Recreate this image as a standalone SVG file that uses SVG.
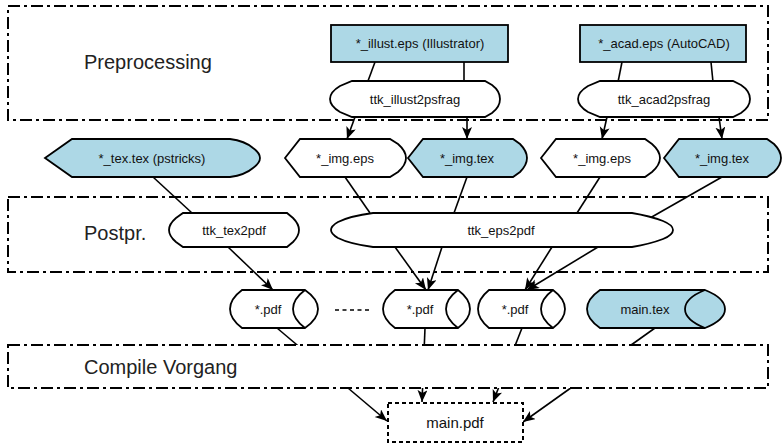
<svg xmlns="http://www.w3.org/2000/svg" width="782" height="446" viewBox="0 0 782 446">
<defs>
<marker id="arr" markerUnits="userSpaceOnUse" markerWidth="13" markerHeight="11" refX="12" refY="5" orient="auto">
<path d="M0,0 L12,5 L0,10 L3,5 Z" fill="#000"/>
</marker>
<style>
.grp{fill:none;stroke:#000;stroke-width:2;stroke-dasharray:12 4 3 4}
.grpw{fill:#fff;stroke:#000;stroke-width:2;stroke-dasharray:12 4 3 4}
.glbl{font-family:"Liberation Sans",Arial,sans-serif;font-size:20px;fill:#222}
.n{fill:#fff;stroke:#000;stroke-width:1.8}
.b{fill:#add8e6;stroke:#000;stroke-width:1.8}
.inner{fill:none;stroke:#000;stroke-width:1.8}
.t{font-family:"Liberation Sans",Arial,sans-serif;font-size:13px;fill:#111;text-anchor:middle}
.e{fill:none;stroke:#000;stroke-width:1.6}
.ea{fill:none;stroke:#000;stroke-width:1.6;marker-end:url(#arr)}
</style>
</defs>
<rect width="782" height="446" fill="#fff"/>

<g id="grp-preprocessing">
<rect class="grp" x="8" y="6" width="760" height="114"/>
<text class="glbl" x="84" y="69">Preprocessing</text>
</g>
<g id="grp-postpr">
<rect class="grp" x="8" y="197" width="760" height="75"/>
<text class="glbl" x="84" y="240">Postpr.</text>
</g>

<g id="connectors">
<line class="e" x1="375" y1="62" x2="368" y2="81"/>
<line class="e" x1="464" y1="62" x2="464" y2="81"/>
<line class="e" x1="622" y1="62" x2="618" y2="82"/>
<line class="e" x1="711" y1="62" x2="713" y2="82"/>
<line class="ea" x1="355" y1="117" x2="347" y2="139"/>
<line class="ea" x1="467" y1="117" x2="467" y2="139"/>
<line class="ea" x1="607" y1="117" x2="602" y2="139"/>
<line class="ea" x1="719" y1="117" x2="722" y2="139"/>
<line class="e" x1="153" y1="177" x2="192" y2="213"/>
<line class="e" x1="345" y1="177" x2="370" y2="213"/>
<line class="e" x1="467" y1="177" x2="454" y2="213"/>
<line class="e" x1="600" y1="177" x2="577" y2="213"/>
<line class="e" x1="722" y1="177" x2="650" y2="218"/>
<line class="ea" x1="228" y1="247" x2="273" y2="290"/>
<line class="ea" x1="395" y1="247" x2="426" y2="290"/>
<line class="ea" x1="442" y1="247" x2="428" y2="290"/>
<line class="ea" x1="552" y1="247" x2="525" y2="290"/>
<line class="ea" x1="598" y1="247" x2="527" y2="290"/>
<line class="ea" x1="277" y1="328" x2="387" y2="421"/>
<line class="ea" x1="425" y1="328" x2="422" y2="402"/>
<line class="ea" x1="522" y1="328" x2="493" y2="402"/>
<line class="ea" x1="655" y1="328" x2="523" y2="422"/>
<line x1="335" y1="310" x2="371" y2="310" stroke="#000" stroke-width="1.6" stroke-dasharray="4 3.5"/>
</g>

<g id="grp-compile">
<rect class="grpw" x="8" y="345" width="760" height="43"/>
<text class="glbl" x="84" y="374">Compile Vorgang</text>
</g>

<g id="illust-eps">
<rect class="b" x="331" y="25" width="177" height="37"/>
<text class="t" x="420" y="48">*_illust.eps (Illustrator)</text>
</g>
<g id="acad-eps">
<rect class="b" x="580" y="25" width="166" height="37"/>
<text class="t" x="664" y="48">*_acad.eps (AutoCAD)</text>
</g>

<g id="ttk-illust2psfrag">
<path class="n" d="M352,81 L485,81 L492,85 Q500,91 500,99 Q500,107 492,113 L485,117 L352,117 L340,112 Q330,106 330,99 Q330,92 340,86 Z"/>
<text class="t" x="415" y="104">ttk_illust2psfrag</text>
</g>
<g id="ttk-acad2psfrag">
<path class="n" d="M600,81 L733,81 L741,85 Q750,91 750,99 Q750,107 741,113 L733,117 L600,117 L588,112 Q578,106 578,99 Q578,92 588,86 Z"/>
<text class="t" x="664" y="104">ttk_acad2psfrag</text>
</g>

<g id="tex-tex">
<path class="b" d="M45,158 L72,139 L230,139 Q245,141 253,148 Q260,153 260,158 Q260,163 253,168 Q245,175 230,177 L72,177 Z"/>
<text class="t" x="152" y="163">*_tex.tex (pstricks)</text>
</g>
<g id="img-eps-1">
<path class="n" d="M285,158 L300,139 L390,139 L398,144 Q406,151 406,158 Q406,165 398,172 L390,177 L300,177 Z"/>
<text class="t" x="345" y="163">*_img.eps</text>
</g>
<g id="img-tex-1">
<path class="b" d="M408,158 L423,139 L513,139 L520,144 Q527,151 527,158 Q527,165 520,172 L513,177 L423,177 Z"/>
<text class="t" x="467" y="163">*_img.tex</text>
</g>
<g id="img-eps-2">
<path class="n" d="M541,158 L556,139 L645,139 L652,144 Q660,151 660,158 Q660,165 652,172 L645,177 L556,177 Z"/>
<text class="t" x="602" y="163">*_img.eps</text>
</g>
<g id="img-tex-2">
<path class="b" d="M664,158 L679,139 L767,139 L774,144 Q781,151 781,158 Q781,165 774,172 L767,177 L679,177 Z"/>
<text class="t" x="722" y="163">*_img.tex</text>
</g>

<g id="ttk-tex2pdf">
<path class="n" d="M183,213 L287,213 L293,218 Q299,224 299,230 Q299,236 293,242 L287,247 L183,247 L176,242 Q169,236 169,230 Q169,224 176,218 Z"/>
<text class="t" x="234" y="235">ttk_tex2pdf</text>
</g>
<g id="ttk-eps2pdf">
<path class="n" d="M373,213 L632,213 Q650,216 663,221 Q673,225 673,230 Q673,235 663,239 Q650,244 632,247 L373,247 Q350,244 338,238 Q331,234 331,230 Q331,226 338,222 Q350,216 373,213 Z"/>
<text class="t" x="501" y="235">ttk_eps2pdf</text>
</g>

<g id="pdf-1">
<path class="n" d="M242,290 L305,290 Q318,299 318,309 Q318,319 305,328 L242,328 Q230,319 230,309 Q230,299 242,290 Z"/>
<path class="inner" d="M305,290 Q293,299 293,309 Q293,319 305,328"/>
<text class="t" x="268" y="314">*.pdf</text>
</g>
<g id="pdf-2">
<path class="n" d="M395,290 L458,290 Q470,299 470,309 Q470,319 458,328 L395,328 Q383,319 383,309 Q383,299 395,290 Z"/>
<path class="inner" d="M458,290 Q446,299 446,309 Q446,319 458,328"/>
<text class="t" x="420" y="314">*.pdf</text>
</g>
<g id="pdf-3">
<path class="n" d="M489,290 L553,290 Q565,299 565,309 Q565,319 553,328 L489,328 Q478,319 478,309 Q478,299 489,290 Z"/>
<path class="inner" d="M553,290 Q541,299 541,309 Q541,319 553,328"/>
<text class="t" x="515" y="314">*.pdf</text>
</g>
<g id="main-tex">
<path class="b" d="M600,290 L705,290 Q725,298 725,309 Q725,320 705,328 L600,328 Q587,319 587,309 Q587,299 600,290 Z"/>
<path class="inner" d="M705,290 Q685,298 685,309 Q685,320 705,328"/>
<text class="t" x="645" y="314">main.tex</text>
</g>

<g id="main-pdf">
<rect x="388" y="403" width="135" height="39" fill="#fff" stroke="#000" stroke-width="2" stroke-dasharray="4 3"/>
<text class="t" x="455" y="428" style="font-size:15px">main.pdf</text>
</g>
</svg>
